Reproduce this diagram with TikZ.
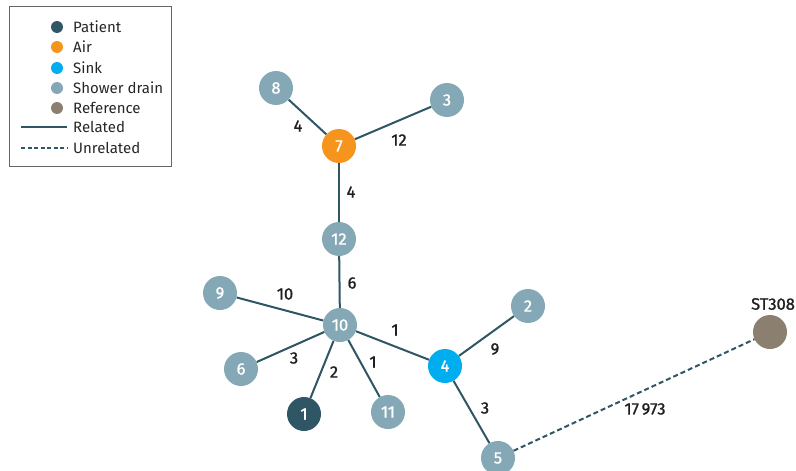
\documentclass[tikz,border=0pt]{standalone}
\usepackage{fontspec}
\setmainfont{Fira Sans}
\newfontfamily\medfont{Fira Sans}[RawFeature={embolden=1.2}]
\begin{document}
\begin{tikzpicture}[x=1pt,y=-1pt,
  edge/.style={draw=edgecol,line width=2pt},
  uedge/.style={draw=edgecol,line width=2pt,dash pattern=on 5pt off 3pt},
  nd/.style={circle,minimum size=34pt,inner sep=0pt,text=white,font=\medfont\fontsize{16.5}{16}\selectfont},
  drain/.style={nd,fill=draincol},
  lab/.style={font=\medfont\fontsize{16.5}{16}\selectfont,text=black!88},
  dot/.style={circle,minimum size=12pt,inner sep=0pt},
  legtxt/.style={anchor=west,font=\fontsize{15}{15}\selectfont,inner sep=0pt,text=black!85}
]
\definecolor{edgecol}{HTML}{2E5664}
\definecolor{patcol}{HTML}{2E5664}
\definecolor{aircol}{HTML}{F7941D}
\definecolor{sinkcol}{HTML}{00AEEF}
\definecolor{draincol}{HTML}{84A8B5}
\definecolor{refcol}{HTML}{8B8070}
\useasboundingbox (0,0) rectangle (796,471);
\begin{scope}
\clip (0,0) rectangle (796,471);
% nodes
\node[drain] (n8) at (276,88) {8};
\node[drain] (n3) at (447,100) {3};
\node[nd,fill=aircol] (n7) at (339,146) {7};
\node[drain] (n12) at (339,239) {12};
\node[drain] (n9) at (220,293) {9};
\node[drain] (n10) at (340,325) {10};
\node[nd,fill=sinkcol] (n4) at (445,366) {4};
\node[drain] (n2) at (528,306) {2};
\node[drain] (n6) at (241,369) {6};
\node[nd,fill=patcol] (n1) at (304,414) {1};
\node[drain] (n11) at (388,412) {11};
\node[drain] (n5) at (498,458) {5};
\node[nd,fill=refcol] (nref) at (770,332) {};
% edges
\draw[edge] (n8) -- (n7);
\draw[edge] (n3) -- (n7);
\draw[edge] (n7) -- (n12);
\draw[edge] (n12) -- (n10);
\draw[edge] (n9) -- (n10);
\draw[edge] (n6) -- (n10);
\draw[edge] (n1) -- (n10);
\draw[edge] (n11) -- (n10);
\draw[edge] (n4) -- (n10);
\draw[edge] (n4) -- (n2);
\draw[edge] (n4) -- (n5);
\draw[uedge] (n5) -- (nref);
\end{scope}
% labels
\node[lab] (l1) at (298,126) {4};
\node[lab] (l2) at (399,140) {12};
\node[lab] (l3) at (351,192) {4};
\node[lab] (l4) at (352,283) {6};
\node[lab] (l5) at (285,294) {10};
\node[lab] (l6) at (395,330) {1};
\node[lab] (l7) at (495,349) {9};
\node[lab] (l8) at (294,358) {3};
\node[lab] (l9) at (334,372) {2};
\node[lab] (l10) at (373,362) {1};
\node[lab] (l11) at (485,408) {3};
\node[lab] (l12) at (645,409) {17\,973};
\node[lab] (l13) at (773,304) {ST308};
% legend
\node[draw=black!60,line width=0.6pt,minimum width=162pt,minimum height=160pt,inner sep=0pt] (leg) at (90,86) {};
\node[dot,fill=patcol] (d1) at (57,27) {};
\node[dot,fill=aircol] (d2) at (57,47) {};
\node[dot,fill=sinkcol] (d3) at (57,68) {};
\node[dot,fill=draincol] (d4) at (57,88) {};
\node[dot,fill=refcol] (d5) at (57,108) {};
\node[legtxt] (t1) at (73,27) {Patient};
\node[legtxt] (t2) at (73,47) {Air};
\node[legtxt] (t3) at (73,68) {Sink};
\node[legtxt] (t4) at (73,88) {Shower drain};
\node[legtxt] (t5) at (73,108) {Reference};
\node[legtxt] (t6) at (73,127) {Related};
\node[legtxt] (t7) at (73,148) {Unrelated};
\coordinate (r0) at (21,127);
\coordinate (r1) at (67,127);
\coordinate (u0) at (21,148);
\coordinate (u1) at (67,148);
\draw[edge,line width=1.6pt] (r0) -- (r1);
\draw[uedge,line width=1.6pt,dash pattern=on 4pt off 2.5pt] (u0) -- (u1);
\end{tikzpicture}
\end{document}
